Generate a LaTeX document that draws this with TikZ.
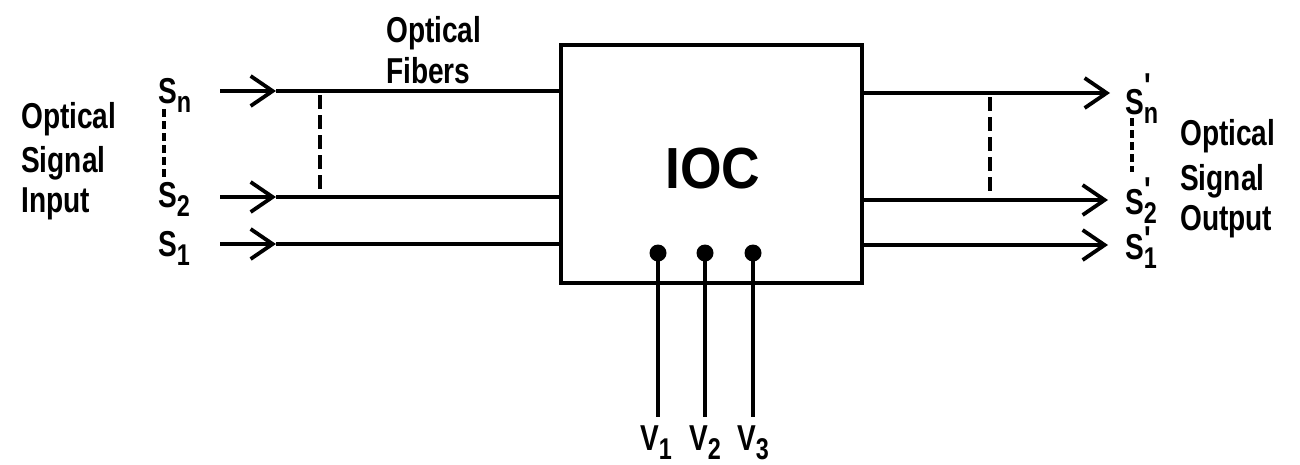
\documentclass[tikz,border=0pt]{standalone}
\usepackage{fontspec}
\setmainfont{Liberation Sans}[FakeStretch=0.78]
\newfontfamily\iocfont{Liberation Sans}[FakeStretch=0.92]
\usetikzlibrary{arrows.meta}
\newcommand{\lowsub}[1]{\raisebox{-9pt}{\fontsize{30}{30}\selectfont #1}}
\newcommand{\primesub}[2]{\rlap{\kern1pt\smash{\raisebox{#1}{\fontsize{36}{36}\selectfont\textquotesingle}}}\lowsub{#2}}
\tikzset{
  lbl/.style={font=\fontsize{36}{40}\selectfont\bfseries, inner sep=0pt},
  fiber/.style={line width=3.8pt},
  barb/.style={-{Straight Barb[length=22pt,width=30pt,line width=3.8pt]}},
  sep/.style={line width=3.2pt, dash pattern=on 14pt off 6pt},
  sigsep/.style={line width=3.2pt, dash pattern=on 8pt off 4pt},
  pin/.style={circle, fill=black, minimum size=17pt, inner sep=0pt},
}
\begin{document}
\begin{tikzpicture}[x=1pt,y=-1pt]
\useasboundingbox (0,0) rectangle (1300,464);
% IOC box
\node[draw, line width=4pt, minimum width=301pt, minimum height=238pt, inner sep=0pt] (ioc) at (711.5,164) {};
\node[font=\iocfont\fontsize{58}{58}\selectfont\bfseries, inner sep=0pt] (ioclbl) at (713,169) {IOC};
% input fibers
\coordinate (inN) at (220,91);
\coordinate (in2) at (220,197);
\coordinate (in1) at (220,244);
\coordinate (tipN) at (276,91);
\coordinate (tip2) at (276,197);
\coordinate (tip1) at (276,244);
\draw[fiber,barb] (inN) -- (tipN);
\draw[fiber,barb] (in2) -- (tip2);
\draw[fiber,barb] (in1) -- (tip1);
\draw[fiber] (tipN) -- (tipN -| ioc.west);
\draw[fiber] (tip2) -- (tip2 -| ioc.west);
\draw[fiber] (tip1) -- (tip1 -| ioc.west);
\coordinate (dLt) at (320,95);
\coordinate (dLb) at (320,194);
\draw[sep] (dLt) -- (dLb);
% output fibers
\coordinate (outN) at (1110,93);
\coordinate (out2) at (1108,200);
\coordinate (out1) at (1108,245);
\draw[fiber,barb] (outN -| ioc.east) -- (outN);
\draw[fiber,barb] (out2 -| ioc.east) -- (out2);
\draw[fiber,barb] (out1 -| ioc.east) -- (out1);
\coordinate (dRt) at (990,97);
\coordinate (dRb) at (990,196);
\draw[sep] (dRt) -- (dRb);
% labels left
\node[lbl, anchor=base west] (oi1) at (21,128) {Optical};
\node[lbl, anchor=base west] (oi2) at (21,172) {Signal};
\node[lbl, anchor=base west] (oi3) at (21,212) {Input};
\node[lbl, anchor=base west] (sN) at (158,103) {S\lowsub{n}};
\node[lbl, anchor=base west] (s2) at (158,207) {S\lowsub{2}};
\node[lbl, anchor=base west] (s1) at (158,256) {S\lowsub{1}};
\coordinate (sLt) at (164,109);
\coordinate (sLb) at (164,180);
\draw[sigsep] (sLt) -- (sLb);
% fibers label
\node[lbl, anchor=base west] (of1) at (386,42) {Optical};
\node[lbl, anchor=base west] (of2) at (386,83) {Fibers};
% labels right
\node[lbl, anchor=base west] (soN) at (1125,114) {S\primesub{16pt}{n}};
\node[lbl, anchor=base west] (so2) at (1125,214) {S\primesub{12pt}{2}};
\node[lbl, anchor=base west] (so1) at (1125,259) {S\primesub{8pt}{1}};
\coordinate (sRt) at (1132,118);
\coordinate (sRb) at (1132,172);
\draw[sigsep] (sRt) -- (sRb);
\node[lbl, anchor=base west] (oo1) at (1180,145) {Optical};
\node[lbl, anchor=base west] (oo2) at (1180,190) {Signal};
\node[lbl, anchor=base west] (oo3) at (1180,230) {Output};
% control pins
\node[pin] (p1) at (658,253) {};
\node[pin] (p2) at (705,253) {};
\node[pin] (p3) at (753,253) {};
\coordinate (v1) at (658,417);
\coordinate (v2) at (705,417);
\coordinate (v3) at (753,417);
\draw[fiber] (p1.center) -- (v1);
\draw[fiber] (p2.center) -- (v2);
\draw[fiber] (p3.center) -- (v3);
\node[lbl, anchor=base] (vl1) at (656,450) {V\lowsub{1}};
\node[lbl, anchor=base] (vl2) at (705,450) {V\lowsub{2}};
\node[lbl, anchor=base] (vl3) at (753,450) {V\lowsub{3}};
\end{tikzpicture}
\end{document}
